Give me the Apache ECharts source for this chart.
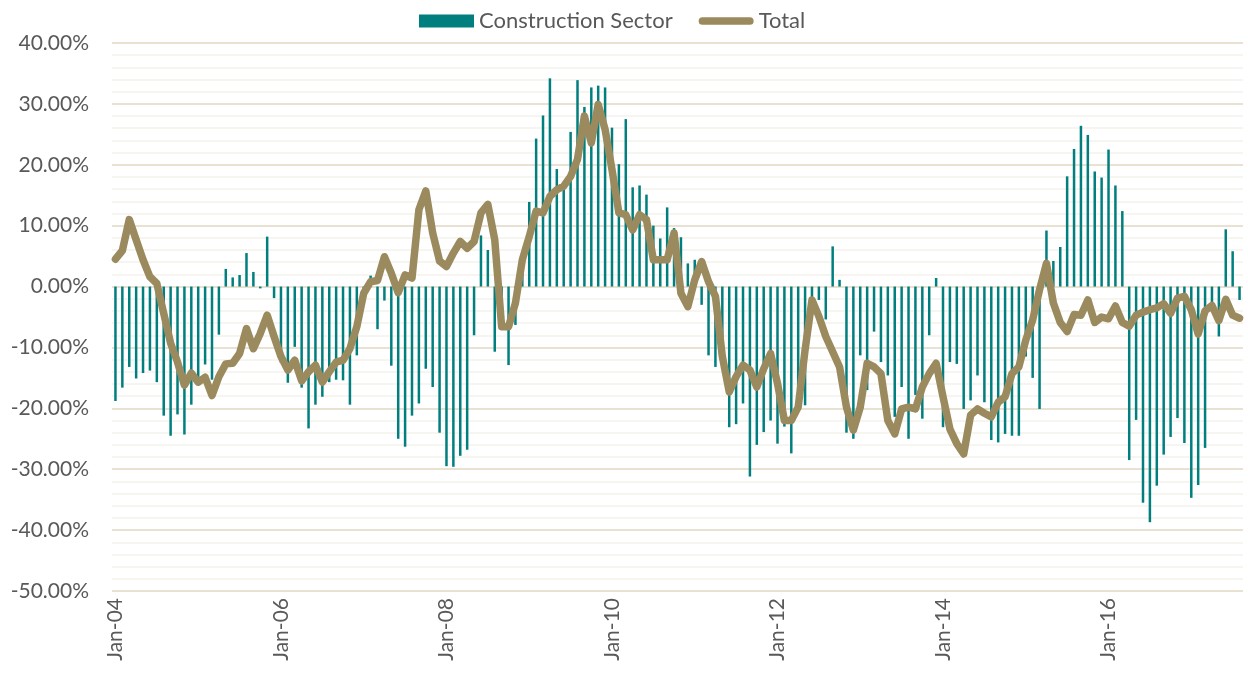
<!DOCTYPE html>
<html>
<head>
<meta charset="utf-8">
<title>Construction Sector vs Total</title>
<script src="https://cdn.jsdelivr.net/npm/echarts@6/dist/echarts.min.js"></script>
<style>
  html, body { margin: 0; padding: 0; background: #fff; }
  #chart { width: 1248px; height: 673px; }
</style>
</head>
<body>
<div id="chart"></div>
<script>
// monthly, Jan-04 .. Aug-17
const monthNames = ['Jan', 'Feb', 'Mar', 'Apr', 'May', 'Jun', 'Jul', 'Aug', 'Sep', 'Oct', 'Nov', 'Dec']
const startYear = 2004

const construction = [
  -18.8, -16.6, -13.2, -15.1, -14.2, -13.8, -15.7, -21.2, -24.5, -21.0,
  -24.3, -19.4, -15.5, -12.8, -15.3, -7.9, 2.9, 1.5, 1.9, 5.5,
  2.4, -0.3, 8.2, -1.9, -12.5, -15.8, -9.9, -16.6, -23.3, -19.4,
  -18.1, -15.7, -15.3, -15.4, -19.4, -11.3, -0.8, 1.8, -7.0, -2.3,
  -13.0, -25.0, -26.3, -21.2, -19.2, -13.5, -16.5, -24.0, -29.5, -29.6,
  -27.8, -26.8, -8.0, 8.4, 6.0, -10.7, -6.0, -12.9, -6.3, 4.0,
  13.9, 24.3, 28.1, 34.2, 19.3, 16.0, 25.4, 33.9, 29.5, 32.7,
  33.0, 32.7, 26.1, 20.1, 27.5, 16.3, 16.6, 15.1, 10.0, 7.9,
  13.0, 9.6, 8.1, 3.8, 4.4, -3.0, -11.3, -13.2, -12.0, -23.1,
  -22.6, -19.2, -31.2, -26.0, -23.9, -22.0, -25.8, -23.0, -27.4, -19.0,
  -19.5, -4.0, -2.2, -5.4, 6.6, 1.1, -24.0, -25.0, -11.3, -17.0,
  -7.4, -12.4, -14.6, -21.4, -16.5, -25.0, -17.8, -21.7, -8.0, 1.4,
  -23.1, -12.4, -12.7, -20.1, -18.7, -14.6, -19.0, -25.2, -25.6, -24.2,
  -24.5, -24.5, -11.5, -15.0, -20.1, 9.2, 4.2, 6.5, 18.1, 22.6,
  26.4, 24.9, 18.9, 17.9, 22.5, 16.6, 12.4, -28.5, -21.9, -35.5,
  -38.7, -32.7, -27.6, -24.7, -21.6, -25.7, -34.7, -32.6, -26.5, -3.5,
  -8.2, 9.4, 5.8, -2.2,
]

const total = [
  4.5, 5.9, 11.0, 7.7, 4.4, 1.6, 0.5, -4.4, -9.3, -12.4,
  -16.2, -14.2, -15.7, -14.9, -17.9, -14.8, -12.7, -12.6, -11.0, -6.9,
  -10.2, -7.7, -4.7, -8.2, -11.5, -13.7, -12.1, -15.5, -14.0, -12.9,
  -15.7, -14.0, -12.4, -12.1, -10.2, -6.6, -1.1, 0.8, 1.0, 4.9,
  2.2, -1.0, 1.9, 1.4, 12.6, 15.7, 8.8, 4.2, 3.3, 5.5,
  7.4, 6.3, 7.4, 12.1, 13.5, 7.7, -6.6, -6.6, -2.7, 4.4,
  8.2, 12.4, 12.1, 14.8, 15.9, 16.5, 18.1, 20.9, 28.0, 23.6,
  29.9, 25.8, 19.2, 12.1, 11.8, 9.3, 11.8, 11.0, 4.4, 4.4,
  4.4, 8.8, -1.1, -3.3, 1.1, 4.1, 0.8, -1.6, -11.5, -17.3,
  -14.8, -12.9, -13.7, -16.5, -13.5, -11.0, -15.9, -22.0, -22.0, -19.8,
  -10.4, -2.2, -4.9, -8.2, -10.7, -13.2, -19.8, -23.6, -19.8, -12.6,
  -13.2, -14.3, -22.0, -24.2, -20.1, -19.8, -20.1, -16.5, -14.3, -12.6,
  -18.1, -23.4, -25.8, -27.5, -21.1, -20.1, -20.8, -21.4, -19.0, -18.1,
  -14.3, -13.2, -8.8, -5.5, -0.5, 3.8, -2.7, -5.9, -7.4, -4.6,
  -4.7, -2.2, -5.9, -5.0, -5.3, -3.2, -5.9, -6.5, -4.7, -4.2,
  -3.8, -3.5, -2.8, -4.4, -1.9, -1.6, -3.8, -7.8, -4.0, -3.1,
  -5.6, -2.1, -4.7, -5.2,
]

const yMin = -50
const yMax = 40
const yStep = 10

// month labels like "Jan-04"
const categories = []
for (let i = 0; i < construction.length; i++) {
  const yy = String((startYear + Math.floor(i / 12)) % 100).padStart(2, '0')
  categories.push(monthNames[i % 12] + '-' + yy)
}

const chart = echarts.init(document.getElementById('chart'))

const textColor = '#595959'
const font = 'Lato, "Open Sans", sans-serif'

const option = {
  backgroundColor: '#fff',
  animation: false,
  legend: {
    top: 10,
    left: 419,
    padding: 0,
    itemGap: 26,
    itemWidth: 55,
    itemHeight: 13,
    textStyle: { color: textColor, fontSize: 22, fontFamily: font },
    data: [
      { name: 'Construction Sector', icon: 'rect' },
      { name: 'Total', icon: 'path://M4,0 L53,0 A4,4 0 0 1 53,8 L4,8 A4,4 0 0 1 4,0 Z' },
    ],
  },
  grid: {
    left: 112,
    right: 5,
    top: 43,
    bottom: 82,
  },
  xAxis: {
    type: 'category',
    data: categories,
    axisLine: { show: false },
    axisTick: { show: false },
    axisLabel: {
      interval: 23,
      rotate: 90,
      margin: 7,
      color: textColor,
      fontSize: 21,
      fontFamily: font,
    },
    splitLine: { show: false },
  },
  yAxis: {
    type: 'value',
    min: yMin,
    max: yMax,
    interval: yStep,
    axisLine: { show: false },
    axisTick: { show: false },
    axisLabel: {
      margin: 23,
      color: textColor,
      fontSize: 21,
      fontFamily: font,
      formatter: (v) => v.toFixed(2) + '%',
    },
    splitLine: {
      show: true,
      lineStyle: { color: '#E9E2D2', width: 2 },
    },
    minorTick: { show: false, splitNumber: 5 },
    minorSplitLine: {
      show: true,
      lineStyle: { color: '#F5F2EA', width: 1.5 },
    },
  },
  series: [
    {
      name: 'Construction Sector',
      type: 'bar',
      data: construction,
      barWidth: 2.5,
      itemStyle: { color: '#007F7E' },
    },
    {
      name: 'Total',
      type: 'line',
      data: total,
      symbol: 'none',
      itemStyle: { color: '#9A8A5E' },
      lineStyle: { color: '#9A8A5E', width: 7.5, cap: 'round', join: 'round' },
    },
  ],
}

chart.setOption(option)
</script>
</body>
</html>
